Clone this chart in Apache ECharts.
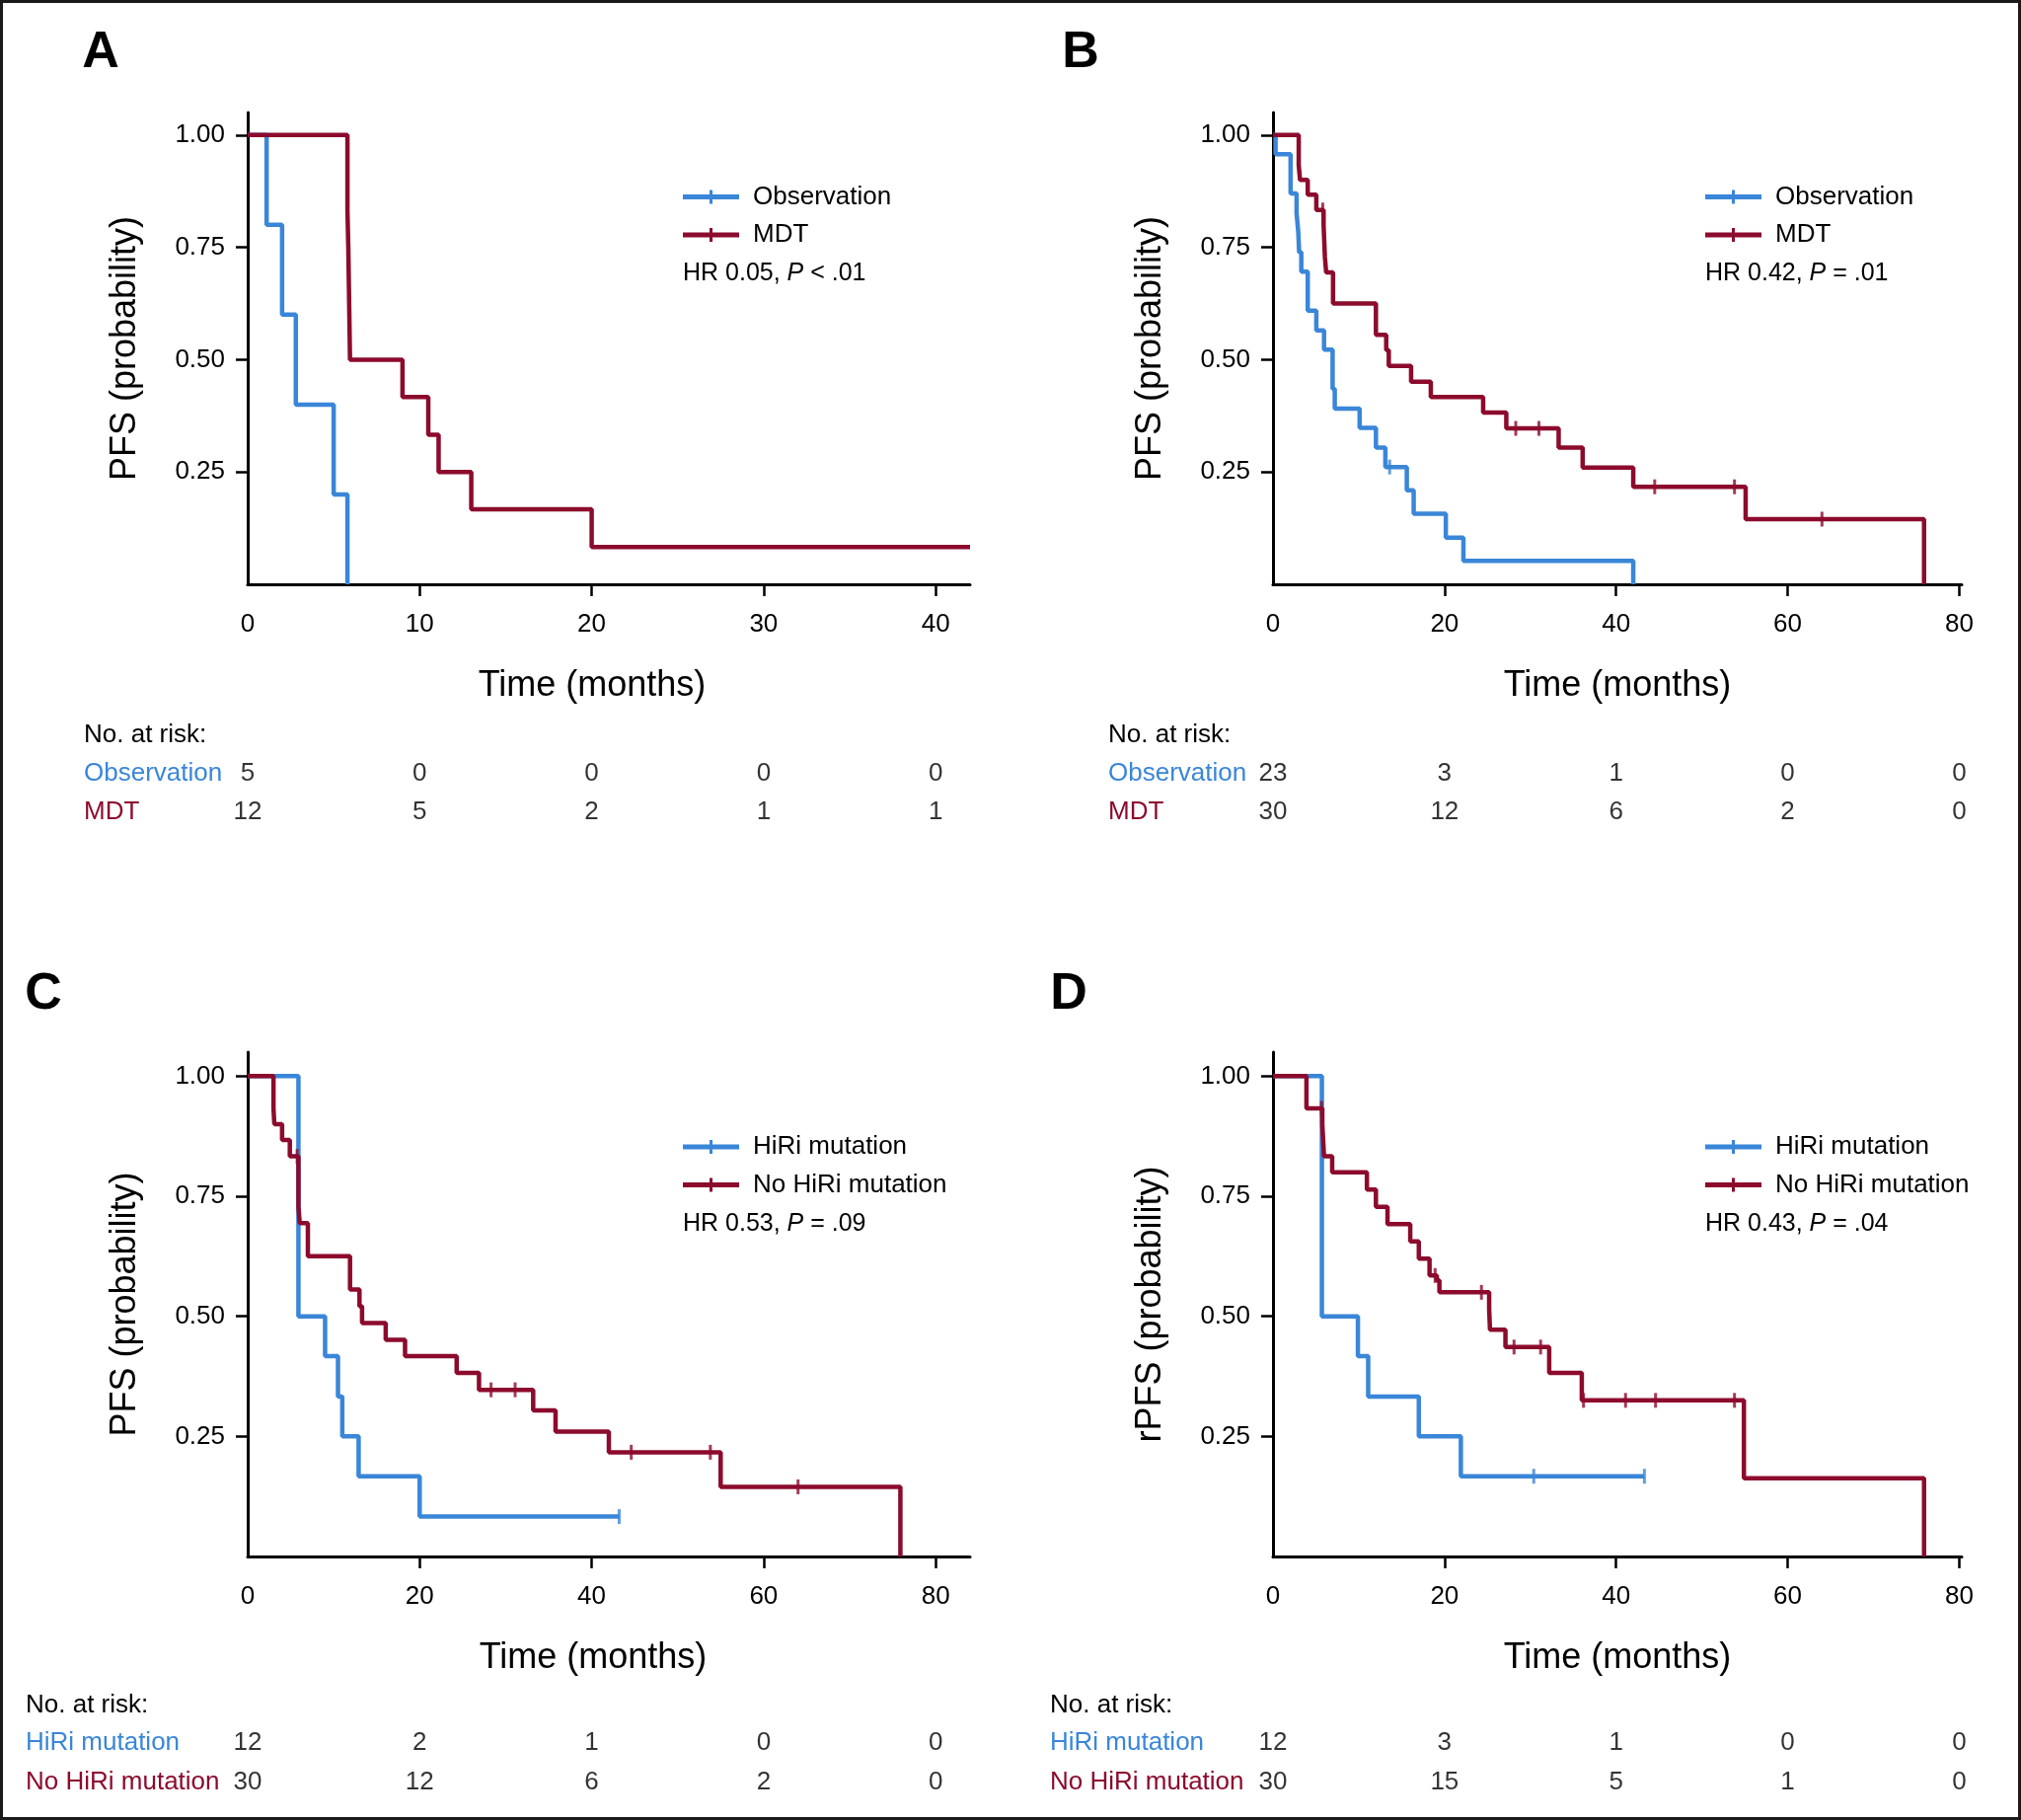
<!DOCTYPE html>
<html><head><meta charset="utf-8">
<script src="https://cdn.jsdelivr.net/npm/echarts@6/dist/echarts.min.js"></script>
<style>html,body{margin:0;padding:0;background:#fff}#c{width:2048px;height:1844px}</style>
</head><body><div id="c"></div>
<script>
const FONT = '"Liberation Sans", Arial, Helvetica, sans-serif';
const BLUE = '#3a86d8', RED = '#8c0b2d';

// ---- Panel A ----
const A_obs = [[0,1],[1.1,0.8],[2.0,0.6],[2.8,0.4],[5.0,0.2],[5.8,0]];
const A_mdt = [[0,1],[5.8,0.833],[5.85,0.75],[5.95,0.5],[9.0,0.417],[10.5,0.333],[11.1,0.25],[13.0,0.167],[20.0,0.083],[42,0.083]];
const A_obs_cens = [];
const A_mdt_cens = [];
const A_risk_obs = [5,0,0,0,0];
const A_risk_mdt = [12,5,2,1,1];

// ---- Panel B ----
const B_obs = [[0,1],[0.3,0.957],[2.05,0.870],[2.75,0.826],[2.95,0.783],[3.05,0.739],[3.3,0.696],[4.05,0.609],[5.05,0.565],[5.95,0.522],[6.95,0.435],[7.2,0.391],[10.1,0.348],[12.0,0.304],[13.1,0.261],[15.6,0.209],[16.4,0.157],[20.15,0.104],[22.2,0.052],[42.0,0]];
const B_mdt = [[0,1],[3.0,0.933],[3.15,0.9],[4.05,0.867],[5.05,0.833],[5.9,0.799],[6.05,0.729],[6.2,0.694],[7.0,0.625],[12.0,0.555],[13.2,0.521],[13.5,0.486],[16.1,0.451],[18.4,0.417],[24.5,0.382],[27.2,0.347],[33.3,0.304],[36.1,0.26],[42.0,0.217],[55.1,0.145],[75.9,0]];
const B_obs_cens = [[13.6,0.261]];
const B_mdt_cens = [[5.8,0.833],[28.3,0.347],[31.0,0.347],[44.5,0.217],[53.8,0.217],[64.0,0.145]];
const B_risk_obs = [23,3,1,0,0];
const B_risk_mdt = [30,12,6,2,0];

// ---- Panel C ----
const C_hiri = [[0,1],[5.9,0.5],[9.0,0.417],[10.5,0.333],[11.0,0.25],[12.9,0.167],[20.0,0.083],[43.2,0.083]];
const C_no = [[0,1],[3.0,0.933],[3.1,0.9],[4.0,0.867],[4.9,0.833],[5.9,0.729],[6.05,0.694],[7.0,0.625],[11.9,0.556],[13.0,0.521],[13.3,0.486],[16.05,0.451],[18.3,0.417],[24.3,0.382],[26.9,0.347],[33.2,0.304],[35.8,0.26],[42.0,0.217],[55.0,0.145],[75.9,0]];
const C_hiri_cens = [[43.2,0.083]];
const C_no_cens = [[5.75,0.833],[28.3,0.347],[31.1,0.347],[44.6,0.217],[53.8,0.217],[64.0,0.145]];
const C_risk_hiri = [12,2,1,0,0];
const C_risk_no = [30,12,6,2,0];

// ---- Panel D ----
const D_hiri = [[0,1],[5.7,0.5],[9.9,0.417],[11.1,0.333],[17.0,0.25],[21.9,0.167],[43.3,0.167]];
const D_no = [[0,1],[3.9,0.933],[5.75,0.9],[5.85,0.867],[5.95,0.833],[6.9,0.8],[10.95,0.764],[12.0,0.728],[13.35,0.692],[16.0,0.656],[17.0,0.62],[18.25,0.585],[19.1,0.575],[19.4,0.55],[25.2,0.515],[25.3,0.472],[27.1,0.436],[32.2,0.382],[36.0,0.325],[54.9,0.163],[75.9,0]];
const D_hiri_cens = [[30.4,0.167],[43.3,0.167]];
const D_no_cens = [[5.65,0.933],[18.9,0.585],[24.3,0.55],[28.1,0.436],[31.2,0.436],[36.2,0.325],[41.1,0.325],[44.6,0.325],[53.8,0.325]];
const D_risk_hiri = [12,3,1,0,0];
const D_risk_no = [30,15,5,1,0];

// ---- ticks / labels ----
const xTicksA = [0,10,20,30,40];
const xTicks80 = [0,20,40,60,80];
const yTicks = [0.25,0.5,0.75,1.0];
const groupsAB = ['Observation','MDT'];
const groupsCD = ['HiRi mutation','No HiRi mutation'];

const panels = [
  {letter:'A', lx:102, ly:54, grid:{left:251, top:114, width:732, height:478}, xmax:42, ticks:xTicksA, yname:'PFS (probability)', namePad:34,
   names:groupsAB, curves:[A_obs,A_mdt], cens:[A_obs_cens,A_mdt_cens], risk:[A_risk_obs,A_risk_mdt],
   hr:['HR 0.05, ','P',' < .01'], legX:692, legY:186.5, hrY:277, riskX:85, riskHeadY:744.5, riskRow1:783.5, riskRow2:822.5},
  {letter:'B', lx:1095, ly:54, grid:{left:1290, top:114, width:698, height:478}, xmax:80.3, ticks:xTicks80, yname:'PFS (probability)', namePad:0,
   names:groupsAB, curves:[B_obs,B_mdt], cens:[B_obs_cens,B_mdt_cens], risk:[B_risk_obs,B_risk_mdt],
   hr:['HR 0.42, ','P',' = .01'], legX:1728, legY:186.5, hrY:277, riskX:1123, riskHeadY:744.5, riskRow1:783.5, riskRow2:822.5},
  {letter:'C', lx:44, ly:1008, grid:{left:251, top:1066, width:732, height:511}, xmax:84, ticks:xTicks80, yname:'PFS (probability)', namePad:32,
   names:groupsCD, curves:[C_hiri,C_no], cens:[C_hiri_cens,C_no_cens], risk:[C_risk_hiri,C_risk_no],
   hr:['HR 0.53, ','P',' = .09'], legX:692, legY:1149, hrY:1240, riskX:26, riskHeadY:1727.5, riskRow1:1766, riskRow2:1805.5},
  {letter:'D', lx:1083, ly:1008, grid:{left:1290, top:1066, width:698, height:511}, xmax:80.3, ticks:xTicks80, yname:'rPFS (probability)', namePad:0,
   names:groupsCD, curves:[D_hiri,D_no], cens:[D_hiri_cens,D_no_cens], risk:[D_risk_hiri,D_risk_no],
   hr:['HR 0.43, ','P',' = .04'], legX:1728, legY:1149, hrY:1240, riskX:1064, riskHeadY:1727.5, riskRow1:1766, riskRow2:1805.5}
];

const colors = [BLUE, RED];
const legendIcon = 'path://M0,4.5H57V9.5H0Z M27,0H30V14H27Z';
const axisLineStyle = {color:'#000', width:3};

const grid = [], xAxis = [], yAxis = [], series = [], legend = [], graphic = [];

graphic.push({type:'rect', shape:{x:1.5, y:1.5, width:2045, height:1841}, style:{fill:'none', stroke:'#1a1a1a', lineWidth:3}, silent:true});

panels.forEach((p, i) => {
  const gi = grid.length;
  grid.push(Object.assign({outerBoundsMode:'none', containLabel:false}, p.grid));
  grid.push({outerBoundsMode:'none', containLabel:false, left:p.grid.left, width:p.grid.width, top:p.riskRow1, height:p.riskRow2 - p.riskRow1});

  xAxis.push({gridIndex:gi, type:'value', min:0, max:p.xmax,
    axisLine:{show:true, onZero:false, lineStyle:axisLineStyle},
    axisTick:{show:true, customValues:p.ticks.filter(t => t > 0), length:12, lineStyle:{color:'#000', width:2.5}},
    axisLabel:{customValues:p.ticks, fontSize:26, color:'#000', fontFamily:FONT, margin:28},
    splitLine:{show:false},
    name:'Time (months)', nameLocation:'middle', nameGap:85,
    nameTextStyle:{fontSize:36, color:'#000', fontFamily:FONT, padding:[0,p.namePad,0,0]}});
  xAxis.push({gridIndex:gi+1, type:'value', min:0, max:p.xmax, show:false});

  yAxis.push({gridIndex:gi, type:'value', min:0, max:1.05,
    axisLine:{show:true, onZero:false, lineStyle:axisLineStyle},
    axisTick:{show:true, customValues:yTicks, length:12, lineStyle:{color:'#000', width:2.5}},
    axisLabel:{customValues:yTicks, formatter:v => v.toFixed(2), fontSize:26, color:'#000', fontFamily:FONT, margin:23},
    splitLine:{show:false},
    name:p.yname, nameLocation:'middle', nameGap:106,
    nameTextStyle:{fontSize:36, color:'#000', fontFamily:FONT}});
  yAxis.push({gridIndex:gi+1, type:'value', min:0, max:1, show:false});

  // curves
  [0,1].forEach(k => {
    series.push({type:'line', name:p.names[k], xAxisIndex:gi, yAxisIndex:gi, data:p.curves[k], step:'end',
      showSymbol:false, symbol:'none', lineStyle:{color:colors[k], width:4.5}, itemStyle:{color:colors[k]},
      animation:false, silent:true, z:2 + 2*k});
    series.push({type:'scatter', xAxisIndex:gi, yAxisIndex:gi, data:p.cens[k], symbol:'rect', symbolSize:[3,15],
      itemStyle:{color:colors[k]}, animation:false, silent:true, z:3 + 2*k});
  });

  // risk table numbers
  const riskData = [];
  p.ticks.forEach((t, j) => {
    riskData.push([t, 1, p.risk[0][j]]);
    riskData.push([t, 0, p.risk[1][j]]);
  });
  series.push({type:'scatter', xAxisIndex:gi+1, yAxisIndex:gi+1, data:riskData, symbolSize:1,
    itemStyle:{color:'rgba(0,0,0,0)'}, animation:false, silent:true,
    label:{show:true, position:'inside', formatter:d => String(d.value[2]), fontSize:26, color:'#000', fontFamily:FONT}});

  legend.push({left:p.legX, top:p.legY, orient:'vertical', padding:0, itemGap:12.5, itemWidth:57, itemHeight:14,
    icon:legendIcon, data:p.names, selectedMode:false,
    itemStyle:{borderWidth:0},
    textStyle:{fontSize:26, color:'#000', fontFamily:FONT, padding:[0,0,0,9]}});

  graphic.push({type:'text', x:p.lx, y:p.ly, silent:true,
    style:{text:p.letter, fontSize:52, fontWeight:'bold', fontFamily:FONT, fill:'#000', align:'center', verticalAlign:'middle'}});
  graphic.push({type:'text', x:p.legX, y:p.hrY, silent:true,
    style:{text:'{a|' + p.hr[0] + '}{b|' + p.hr[1] + '}{a|' + p.hr[2] + '}', align:'left', verticalAlign:'middle',
      rich:{a:{fontSize:25, fontFamily:FONT, fill:'#000', color:'#000'}, b:{fontSize:25, fontFamily:FONT, fontStyle:'italic', fill:'#000', color:'#000'}}}});
  graphic.push({type:'text', x:p.riskX, y:p.riskHeadY, silent:true,
    style:{text:'No. at risk:', fontSize:26, fontFamily:FONT, fill:'#000', align:'left', verticalAlign:'middle'}});
  graphic.push({type:'text', x:p.riskX, y:p.riskRow1, silent:true,
    style:{text:p.names[0], fontSize:26, fontFamily:FONT, fill:BLUE, align:'left', verticalAlign:'middle'}});
  graphic.push({type:'text', x:p.riskX, y:p.riskRow2, silent:true,
    style:{text:p.names[1], fontSize:26, fontFamily:FONT, fill:RED, align:'left', verticalAlign:'middle'}});
});

const chart = echarts.init(document.getElementById('c'), null, {renderer:'canvas'});
chart.setOption({backgroundColor:'#fff', animation:false, grid, xAxis, yAxis, series, legend, graphic});
</script></body></html>
